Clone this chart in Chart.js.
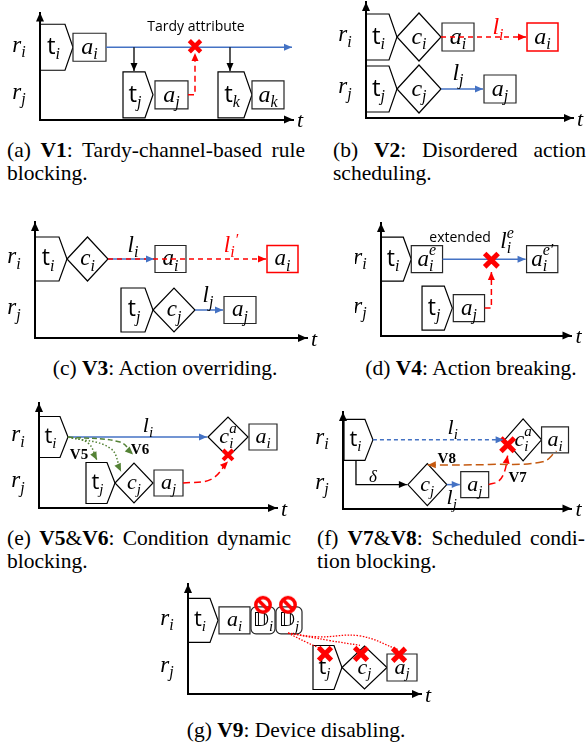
<!DOCTYPE html>
<html>
<head>
<meta charset="utf-8">
<script src="https://cdn.jsdelivr.net/npm/chart.js@4.4.1/dist/chart.umd.min.js"></script>
<style>
  body { margin: 0; width: 586px; height: 745px; position: relative; overflow: hidden; background: #fff; }
  canvas { position: absolute; }
  .cap { position: absolute; font-family: "Liberation Serif", "Times New Roman", serif; font-size: 21.5px; line-height: 23px; color: #000; }
  .cap .j { text-align: justify; text-align-last: justify; }
  .cap.c { text-align: center; }
</style>
</head>
<body>

<div class="cap" style="left:7px;top:139px;width:298px"><div class="j">(a) <b>V1</b>: Tardy-channel-based rule</div><div>blocking.</div></div>
<div class="cap" style="left:333px;top:139px;width:253px"><div class="j">(b) <b>V2</b>: Disordered action</div><div>scheduling.</div></div>
<div class="cap c" style="left:0px;top:357px;width:330px">(c) <b>V3</b>: Action overriding.</div>
<div class="cap c" style="left:356px;top:357px;width:230px">(d) <b>V4</b>: Action breaking.</div>
<div class="cap" style="left:7px;top:527px;width:284px"><div class="j">(e) <b>V5</b>&amp;<b>V6</b>: Condition dynamic</div><div>blocking.</div></div>
<div class="cap" style="left:317px;top:527px;width:268px"><div class="j">(f) <b>V7</b>&amp;<b>V8</b>: Scheduled condi-</div><div>tion blocking.</div></div>
<div class="cap c" style="left:146px;top:719px;width:300px">(g) <b>V9</b>: Device disabling.</div>

<script>
/* ---- rows and axis ---- */
// r_i is row 1, r_j is row 0; t runs along x from the y-axis
const rowTicks = [
  { value: 1, base: 'r', sub: 'i' },
  { value: 0, base: 'r', sub: 'j' },
];
const axisName = 't';

/* ---- (a) V1 ---- */
const nodesA = [
  { kind: 'trig', t0: 0, t1: 33, row: 1, base: 't', sub: 'i' },
  { kind: 'act', t0: 33, t1: 66, row: 1, base: 'a', sub: 'i' },
  { kind: 'trig', t0: 83, t1: 113, row: 0, base: 't', sub: 'j' },
  { kind: 'act', t0: 115, t1: 148, row: 0, base: 'a', sub: 'j' },
  { kind: 'trig', t0: 178, t1: 212, row: 0, base: 't', sub: 'k' },
  { kind: 'act', t0: 212, t1: 244, row: 0, base: 'a', sub: 'k' },
];
const linksA = [
  { kind: 'flow', pts: [[66, 1], [252, 1]], head: 'end' },
  { kind: 'trigger', pts: [[94, 1], [94, 0.5]], head: 'end' },
  { kind: 'trigger', pts: [[190, 1], [190, 0.5]], head: 'end' },
  { kind: 'tardy', pts: [[148, 0], [155, 0], [155, 0.88]], head: 'end' },
];
const crossesA = [[155, 1.02]];
const notesA = [{ kind: 'sans', t: 156, y: 1.42, text: 'Tardy attribute' }];

/* ---- (b) V2 ---- */
const nodesB = [
  { kind: 'trig', t0: 0, t1: 31, row: 1, base: 't', sub: 'i' },
  { kind: 'cond', t0: 31, t1: 75, row: 1, base: 'c', sub: 'i' },
  { kind: 'act', t0: 76, t1: 108, row: 1, base: 'a', sub: 'i' },
  { kind: 'act', t0: 161, t1: 192, row: 1, base: 'a', sub: 'i', state: 'late' },
  { kind: 'trig', t0: 0, t1: 31, row: 0, base: 't', sub: 'j' },
  { kind: 'cond', t0: 31, t1: 75, row: 0, base: 'c', sub: 'j' },
  { kind: 'act', t0: 118, t1: 150, row: 0, base: 'a', sub: 'j' },
];
const linksB = [
  { kind: 'late', pts: [[75, 1], [160, 1]], head: 'end' },
  { kind: 'flow', pts: [[75, 0], [117, 0]], head: 'end' },
];
const notesB = [
  { kind: 'math', t: 132, y: 1.18, base: 'l', sub: 'i', tone: 'red' },
  { kind: 'math', t: 92, y: 0.3, base: 'l', sub: 'j' },
];

/* ---- (c) V3 ---- */
const nodesC = [
  { kind: 'trig', t0: 0, t1: 32, row: 1, base: 't', sub: 'i' },
  { kind: 'cond', t0: 32, t1: 73, row: 1, base: 'c', sub: 'i' },
  { kind: 'act', t0: 120, t1: 151, row: 1, base: 'a', sub: 'i' },
  { kind: 'act', t0: 232, t1: 263, row: 1, base: 'a', sub: 'i', state: 'late' },
  { kind: 'trig', t0: 86, t1: 118, row: 0, base: 't', sub: 'j' },
  { kind: 'cond', t0: 118, t1: 160, row: 0, base: 'c', sub: 'j' },
  { kind: 'act', t0: 189, t1: 221, row: 0, base: 'a', sub: 'j' },
];
const linksC = [
  { kind: 'flow', pts: [[73, 1], [119, 1]], head: 'end' },
  { kind: 'late', pts: [[73, 1], [231, 1]], head: 'end' },
  { kind: 'flow', pts: [[160, 0], [188, 0]], head: 'end' },
];
const notesC = [
  { kind: 'math', t: 98, y: 1.26, base: 'l', sub: 'i' },
  { kind: 'math', t: 196, y: 1.26, base: 'l', sub: 'i', post: '\u2032', tone: 'red' },
  { kind: 'math', t: 173, y: 0.29, base: 'l', sub: 'j' },
];

/* ---- (d) V4 ---- */
const nodesD = [
  { kind: 'trig', t0: 0, t1: 31, row: 1, base: 't', sub: 'i' },
  { kind: 'act', t0: 31, t1: 63, row: 1, base: 'a', sub: 'i', sup: 'e' },
  { kind: 'act', t0: 149, t1: 181, row: 1, base: 'a', sub: 'i', sup: 'e\u2032' },
  { kind: 'trig', t0: 42, t1: 73, row: 0, base: 't', sub: 'j' },
  { kind: 'act', t0: 74, t1: 106, row: 0, base: 'a', sub: 'j' },
];
const linksD = [
  { kind: 'flow', pts: [[63, 1], [148, 1]], head: 'end' },
  { kind: 'tardy', pts: [[106, 0], [113, 0], [113, 0.74]], head: 'end' },
];
const crossesD = [[113, 0.98]];
const notesD = [
  { kind: 'sans', t: 81, y: 1.44, text: 'extended' },
  { kind: 'math', t: 129, y: 1.36, base: 'l', sub: 'i', sup: 'e' },
];

/* ---- (e) V5 & V6 ---- */
const nodesE = [
  { kind: 'trig', t0: 0, t1: 29, row: 1, base: 't', sub: 'i' },
  { kind: 'cond', t0: 169, t1: 209, row: 1, base: 'c', sub: 'i', sup: 'a' },
  { kind: 'act', t0: 210, t1: 238, row: 1, base: 'a', sub: 'i' },
  { kind: 'trig', t0: 47, t1: 76, row: 0, base: 't', sub: 'j' },
  { kind: 'cond', t0: 76, t1: 114, row: 0, base: 'c', sub: 'j' },
  { kind: 'act', t0: 115, t1: 144, row: 0, base: 'a', sub: 'j' },
];
const linksE = [
  { kind: 'flow', pts: [[29, 1], [168, 1]], head: 'end' },
  { kind: 'v5', pts: [[29, 1], [49, 0.87], [58, 0.5]], head: 'end' },
  { kind: 'v5', pts: [[29, 1], [71, 0.76], [82, 0.25]], head: 'end' },
  { kind: 'v6', pts: [[29, 1], [81, 0.89], [94, 0.62]], head: 'end' },
  { kind: 'block', pts: [[144, 0], [172, 0.08], [189, 0.47]], head: 'end' },
];
const crossesE = [[189, 0.61]];
const notesE = [
  { kind: 'math', t: 109, y: 1.24, base: 'l', sub: 'i' },
  { kind: 'vtag', t: 40, y: 0.61, text: 'V5' },
  { kind: 'vtag', t: 101, y: 0.72, text: 'V6' },
];

/* ---- (f) V7 & V8 ---- */
const nodesF = [
  { kind: 'trig', t0: 1, t1: 30, row: 1, base: 't', sub: 'i' },
  { kind: 'cond', t0: 162, t1: 199, row: 1, base: 'c', sub: 'i', sup: 'a' },
  { kind: 'act', t0: 199, t1: 226, row: 1, base: 'a', sub: 'i' },
  { kind: 'cond', t0: 65, t1: 104, row: 0, base: 'c', sub: 'j' },
  { kind: 'act', t0: 118, t1: 146, row: 0, base: 'a', sub: 'j' },
];
const linksF = [
  { kind: 'wait', pts: [[30, 1], [161, 1]], head: 'end' },
  { kind: 'trigger', pts: [[13, 0.53], [13, 0], [64, 0]], head: 'end' },
  { kind: 'flow', pts: [[104, 0], [117, 0]], head: 'end' },
  { kind: 'block', pts: [[146, 0], [156, 0.08], [162, 0.3], [165, 0.65]], head: 'end' },
  { kind: 'v8', pts: [[85, 0.44], [147, 0.45], [200, 0.51], [214, 0.75]], head: 'start' },
];
const crossesF = [[165, 0.89]];
const notesF = [
  { kind: 'math', t: 110, y: 1.26, base: 'l', sub: 'i' },
  { kind: 'greek', t: 30, y: 0.16, text: '\u03b4' },
  { kind: 'math', t: 109, y: -0.3, base: 'l', sub: 'j' },
  { kind: 'vtag', t: 175, y: 0.14, text: 'V7' },
  { kind: 'vtag', t: 104, y: 0.58, text: 'V8' },
];

/* ---- (g) V9 ---- */
const nodesG = [
  { kind: 'trig', t0: 0, t1: 30, row: 1, base: 't', sub: 'i' },
  { kind: 'act', t0: 31, t1: 62, row: 1, base: 'a', sub: 'i' },
  { kind: 'dev', t0: 63, t1: 87, row: 1, base: '\u{1D53B}', sub: 'i' },
  { kind: 'dev', t0: 88, t1: 114, row: 1, base: '\u{1D53B}', sub: 'j' },
  { kind: 'trig', t0: 125, t1: 154, row: 0, base: 't', sub: 'j' },
  { kind: 'cond', t0: 154, t1: 199, row: 0, base: 'c', sub: 'j' },
  { kind: 'act', t0: 199, t1: 229, row: 0, base: 'a', sub: 'j' },
];
const linksG = [
  { kind: 'disable', pts: [[100, 0.73], [119, 0.53], [135, 0.38]] },
  { kind: 'disable', pts: [[100, 0.73], [142, 0.57], [172, 0.47]] },
  { kind: 'disable', pts: [[100, 0.73], [130, 0.65], [172, 0.67], [210, 0.38]] },
];
const crossesG = [[137, 0.29], [173, 0.29], [211, 0.27]];
const bansG = [[75, 1.33], [100, 1.33]];

/* ---- styles ---- */
const BLUE = '#4472C4', RED = '#FF0000', GREEN = '#548235', ORANGE = '#C55A11', INK = '#000';
const SERIF = '"Liberation Serif", "Times New Roman", serif';
const SANS = '"Open Sans", "Liberation Sans", sans-serif';
const DSTRUCK = '"DejaVu Sans", "DejaVu Serif", sans-serif';

const LINK_STYLE = {
  flow: { color: BLUE, width: 1.5 },
  wait: { color: BLUE, width: 1.5, dash: [4, 3] },
  trigger: { color: INK, width: 1.3 },
  tardy: { color: RED, width: 1.5, dash: [6, 4] },
  late: { color: RED, width: 1.5, dash: [5, 4] },
  block: { color: RED, width: 1.5, dash: [7, 4], tension: 0.4 },
  v5: { color: GREEN, width: 1.5, dash: [1.5, 2], tension: 0.4 },
  v6: { color: GREEN, width: 1.5, dash: [5, 3], tension: 0.4 },
  v8: { color: ORANGE, width: 1.5, dash: [8, 4], tension: 0.4 },
  disable: { color: RED, width: 1.3, dash: [1.5, 1.5], tension: 0.4 },
};

const banIcon = document.createElement('canvas');
banIcon.width = banIcon.height = 20;
(() => {
  const c = banIcon.getContext('2d');
  c.strokeStyle = RED; c.lineWidth = 3.5;
  c.beginPath(); c.arc(10, 10, 7.2, 0, Math.PI * 2); c.stroke();
  c.beginPath(); c.moveTo(5, 5); c.lineTo(15, 15); c.stroke();
})();

// box/axis in page pixels, rows = pixel rows of r_i and r_j
const panels = [
  { box: [0, 0, 312, 132], axis: [40, 3, 293, 120], rows: [41, 93], font: 24, h: { trig: 46, cond: 46, act: 28 }, cross: [8, 4.5],
    nodes: nodesA, links: linksA, crosses: crossesA, bans: [], notes: notesA },
  { box: [325, 0, 261, 130], axis: [366, 2, 573, 118], rows: [37, 89], font: 24, h: { trig: 46, cond: 48, act: 28 }, cross: [8, 4.5],
    nodes: nodesB, links: linksB, crosses: [], bans: [], notes: notesB },
  { box: [0, 205, 325, 145], axis: [35, 222, 307, 338], rows: [259, 310], font: 23, h: { trig: 44, cond: 44, act: 27 }, cross: [8, 4.5],
    nodes: nodesC, links: linksC, crosses: [], bans: [], notes: notesC },
  { box: [355, 205, 231, 145], axis: [381, 223, 576, 338], rows: [260, 310], font: 23, h: { trig: 44, cond: 44, act: 27 }, cross: [9.5, 5],
    nodes: nodesD, links: linksD, crosses: crossesD, bans: [], notes: notesD },
  { box: [0, 390, 300, 130], axis: [39, 403, 277, 508], rows: [437, 483], font: 22, h: { trig: 41, cond: 40, act: 26 }, cross: [7, 4],
    nodes: nodesE, links: linksE, crosses: crossesE, bans: [], notes: notesE },
  { box: [310, 395, 276, 128], axis: [343, 412, 572, 509], rows: [440, 485], font: 22, h: { trig: 41, cond: 42, act: 26 }, cross: [9.5, 5],
    nodes: nodesF, links: linksF, crosses: crossesF, bans: [], notes: notesF },
  { box: [150, 570, 290, 140], axis: [188, 582, 421, 694], rows: [619, 667], font: 22, h: { trig: 44, cond: 43, act: 27 }, cross: [9, 5],
    nodes: nodesG, links: linksG, crosses: crossesG, bans: bansG, notes: [] },
];

/* ---- drawing helpers ---- */
function mathText(ctx, lab, cx, cy, size, color, face) {
  const baseFont = face === 'sans' ? `${size}px ${SANS}` : face === 'dd' ? `${Math.round(size * 0.9)}px ${DSTRUCK}` : `italic ${size}px ${SERIF}`;
  const small = Math.round(size * 0.68);
  const smallFont = `italic ${small}px ${SERIF}`;
  ctx.save();
  ctx.fillStyle = color;
  ctx.textAlign = 'left';
  ctx.textBaseline = 'alphabetic';
  ctx.font = baseFont;
  const wb = ctx.measureText(lab.base).width;
  ctx.font = smallFont;
  const wsub = lab.sub ? ctx.measureText(lab.sub).width : 0;
  const ws = Math.max(wsub, lab.sup ? ctx.measureText(lab.sup).width : 0);
  const wp = lab.post ? ctx.measureText(lab.post).width : 0;
  const x0 = cx - (wb + ws + wp) / 2;
  const base = cy + size * 0.28;
  ctx.font = baseFont;
  ctx.fillText(lab.base, x0, base);
  ctx.font = smallFont;
  if (lab.sub) ctx.fillText(lab.sub, x0 + wb, base + size * 0.22);
  if (lab.sup) ctx.fillText(lab.sup, x0 + wb, base - size * 0.45);
  if (lab.post) ctx.fillText(lab.post, x0 + wb + ws, base - size * 0.3);
  ctx.restore();
}

function drawNode(ctx, n, x0, x1, cy, p) {
  const h = p.h[n.kind === 'dev' ? 'act' : n.kind];
  const top = cy - h / 2, bot = cy + h / 2;
  let cx = (x0 + x1) / 2;
  ctx.save();
  ctx.beginPath();
  if (n.kind === 'trig') {
    const k = 8;
    ctx.moveTo(x0, top); ctx.lineTo(x1 - k, top); ctx.lineTo(x1, cy); ctx.lineTo(x1 - k, bot); ctx.lineTo(x0, bot); ctx.closePath();
    cx = (x0 + x1 - k) / 2 + 1;
  } else if (n.kind === 'cond') {
    ctx.moveTo(x0, cy); ctx.lineTo(cx, top); ctx.lineTo(x1, cy); ctx.lineTo(cx, bot); ctx.closePath();
  } else if (n.kind === 'dev') {
    ctx.roundRect(x0, top, x1 - x0, h, 5);
  } else {
    ctx.rect(x0, top, x1 - x0, h);
  }
  ctx.fillStyle = '#fff';
  ctx.fill();
  ctx.lineWidth = n.state === 'late' ? 1.5 : 1.2;
  ctx.strokeStyle = n.state === 'late' ? RED : (n.kind === 'act' || n.kind === 'dev' ? '#262626' : INK);
  ctx.stroke();
  ctx.restore();
  const face = n.kind === 'trig' ? 'sans' : n.kind === 'dev' ? 'dd' : 'math';
  mathText(ctx, n, cx, cy, p.font, INK, face);
}

function arrowHead(ctx, tip, from, color, len, half) {
  const ang = Math.atan2(tip.y - from.y, tip.x - from.x);
  ctx.save();
  ctx.translate(tip.x, tip.y);
  ctx.rotate(ang);
  ctx.beginPath();
  ctx.moveTo(0, 0); ctx.lineTo(-len, -half); ctx.lineTo(-len, half); ctx.closePath();
  ctx.fillStyle = color;
  ctx.fill();
  ctx.restore();
}

function ctrlPoint(pt, key) {
  const x = pt[key + 'x'], y = pt[key + 'y'];
  if (x === undefined || (Math.abs(x - pt.x) < 0.5 && Math.abs(y - pt.y) < 0.5)) return null;
  return { x, y };
}

function diagram(p) {
  return {
    id: 'diagram',
    beforeDraw(chart) {
      const { ctx, scales: { x, y } } = chart;
      p.nodes.forEach((n) => drawNode(ctx, n, x.getPixelForValue(n.t0), x.getPixelForValue(n.t1), y.getPixelForValue(n.row), p));
    },
    afterDatasetsDraw(chart) {
      const { ctx, chartArea: area, scales: { x, y } } = chart;

      chart.data.datasets.forEach((ds, i) => {
        if (!ds.head) return;
        const pts = chart.getDatasetMeta(i).data;
        const n = pts.length;
        const tip = ds.head === 'end' ? pts[n - 1] : pts[0];
        const from = ds.head === 'end' ? (ctrlPoint(tip, 'cp1') || pts[n - 2]) : (ctrlPoint(tip, 'cp2') || pts[1]);
        arrowHead(ctx, tip, from, ds.borderColor, 8, 3.5);
      });

      // axis arrows
      arrowHead(ctx, { x: area.left, y: area.top }, { x: area.left, y: area.bottom }, INK, 9, 4);
      arrowHead(ctx, { x: area.right, y: area.bottom }, { x: area.left, y: area.bottom }, INK, 9, 4);

      rowTicks.forEach((r) => mathText(ctx, r, area.left - 21, y.getPixelForValue(r.value) - 2, 23, INK, 'math'));
      ctx.save();
      ctx.font = `italic 22px ${SERIF}`;
      ctx.fillStyle = INK;
      ctx.textAlign = 'center';
      ctx.textBaseline = 'middle';
      ctx.fillText(axisName, area.right + 7, area.bottom + 2);
      ctx.restore();

      p.notes.forEach((nt) => {
        const px = x.getPixelForValue(nt.t), py = y.getPixelForValue(nt.y);
        const color = nt.tone === 'red' ? RED : INK;
        if (nt.kind === 'math') { mathText(ctx, nt, px, py, p.font, color, 'math'); return; }
        ctx.save();
        ctx.fillStyle = color;
        ctx.textAlign = 'center';
        ctx.textBaseline = 'middle';
        ctx.font = nt.kind === 'sans' ? `14px ${SANS}` : nt.kind === 'vtag' ? `bold 15px ${SERIF}` : `italic 17px ${SERIF}`;
        ctx.fillText(nt.text, px, py);
        ctx.restore();
      });
    },
  };
}

function buildPanel(p) {
  const [bx, by, bw, bh] = p.box;
  const [left, top, right, bottom] = p.axis;
  const [rowI, rowJ] = p.rows;
  const unit = rowJ - rowI;

  const canvas = document.createElement('canvas');
  canvas.width = bw;
  canvas.height = bh;
  canvas.style.left = bx + 'px';
  canvas.style.top = by + 'px';
  document.body.appendChild(canvas);

  const datasets = p.links.map((l, i) => {
    const s = LINK_STYLE[l.kind];
    return {
      data: l.pts.map(([t, v]) => ({ x: t, y: v })),
      showLine: true,
      borderColor: s.color,
      borderWidth: s.width,
      borderDash: s.dash || [],
      tension: s.tension || 0,
      pointRadius: 0,
      pointHoverRadius: 0,
      clip: false,
      order: -i,
      head: l.head,
    };
  });
  if (p.crosses.length) {
    datasets.push({
      data: p.crosses.map(([t, v]) => ({ x: t, y: v })),
      showLine: false, pointStyle: 'crossRot', pointRadius: p.cross[0],
      pointBorderColor: RED, pointBorderWidth: p.cross[1], pointBackgroundColor: RED,
      clip: false, order: -100,
    });
  }
  if (p.bans.length) {
    datasets.push({
      data: p.bans.map(([t, v]) => ({ x: t, y: v })),
      showLine: false, pointStyle: banIcon, pointRadius: 8,
      clip: false, order: -101,
    });
  }

  const hidden = { grid: { display: false, drawTicks: false }, ticks: { display: false }, border: { display: true, color: INK, width: 2 } };

  new Chart(canvas, {
    type: 'scatter',
    data: { datasets },
    options: {
      responsive: false,
      animation: false,
      devicePixelRatio: 1,
      events: [],
      layout: { padding: { left: left - bx, top: top - by, right: bx + bw - right, bottom: by + bh - bottom } },
      plugins: { legend: { display: false }, tooltip: { enabled: false } },
      scales: {
        x: { type: 'linear', min: 0, max: right - left, ...hidden },
        y: { type: 'linear', min: -(bottom - rowJ) / unit, max: 1 + (rowI - top) / unit, ...hidden },
      },
    },
    plugins: [diagram(p)],
  });
}

panels.forEach(buildPanel);
</script>
</body>
</html>
